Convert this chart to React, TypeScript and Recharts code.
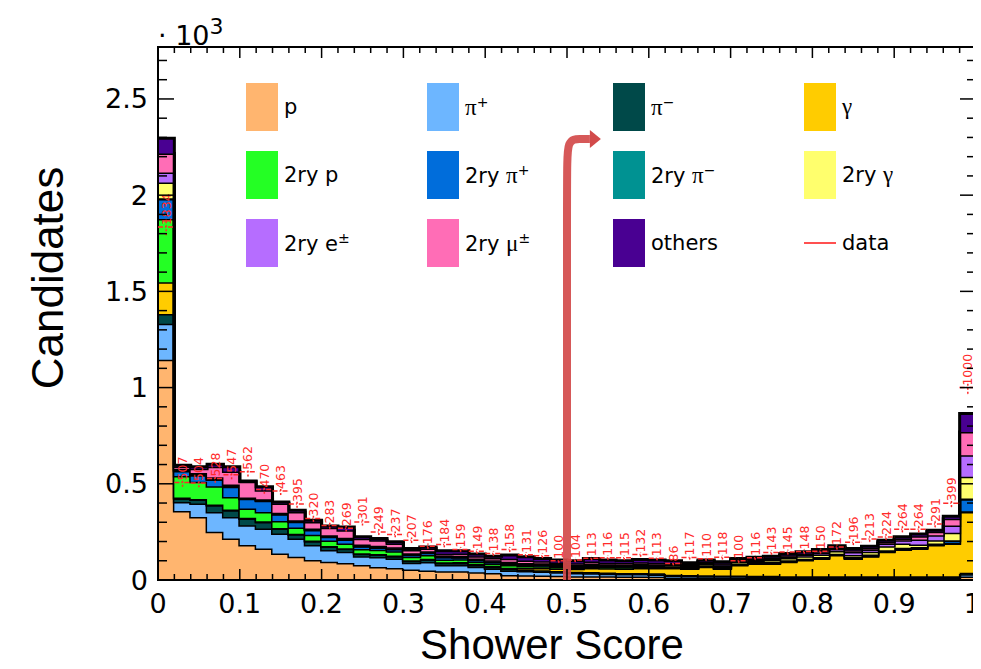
import React from 'react';
import {
  ComposedChart,
  Area,
  Scatter,
  ErrorBar,
  Line,
  XAxis,
  YAxis,
  ReferenceArea,
  ReferenceDot,
  Legend,
} from 'recharts';

// 50 bins of width 0.02 on [0, 1]
const P = [1145, 358, 328, 251, 216, 182, 164, 138, 121, 104, 95, 88, 78, 68, 62, 55, 50, 45, 46, 40, 36, 26, 25, 24, 22, 20, 20, 19, 18, 18, 17, 12, 12, 12, 12, 12, 11, 11, 10, 10, 10, 10, 10, 10, 10, 10, 10, 10, 10, 18];
const PI_PLUS = [187, 48, 70, 103, 112, 103, 104, 104, 95, 78, 61, 59, 46, 52, 50, 35, 44, 33, 32, 29, 24, 24, 22, 20, 18, 16, 15, 14, 13, 13, 12, 10, 9, 8, 8, 8, 7, 7, 6, 6, 6, 6, 6, 6, 6, 6, 6, 6, 6, 12];
const PI_MINUS = [51, 18, 20, 35, 35, 35, 34, 25, 22, 20, 18, 15, 12, 12, 12, 10, 12, 10, 10, 9, 8, 8, 8, 7, 7, 7, 7, 6, 6, 6, 6, 5, 5, 5, 4, 4, 4, 4, 4, 4, 4, 4, 4, 4, 4, 4, 4, 4, 4, 8];
const GAMMA = [164, 5, 3, 3, 3, 3, 3, 3, 3, 3, 3, 3, 3, 3, 3, 3, 4, 4, 5, 5, 6, 6, 8, 12, 13, 15, 20, 22, 23, 25, 27, 35, 34, 44, 36, 54, 64, 64, 75, 84, 92, 110, 92, 104, 127, 139, 144, 162, 170, 316];
const P_2RY = [329, 112, 90, 95, 66, 49, 49, 37, 32, 30, 28, 25, 22, 22, 22, 18, 20, 15, 15, 12, 12, 14, 10, 9, 8, 7, 8, 6, 6, 6, 5, 4, 3, 3, 3, 2, 2, 2, 2, 2, 2, 2, 2, 2, 2, 2, 2, 2, 2, 3];
const PI_PLUS_2RY = [104, 26, 34, 35, 52, 50, 58, 35, 30, 25, 20, 20, 14, 12, 12, 10, 12, 12, 10, 9, 8, 8, 7, 6, 6, 5, 6, 5, 5, 5, 4, 4, 3, 3, 3, 3, 3, 3, 3, 3, 3, 3, 3, 4, 4, 4, 4, 4, 12, 63];
const PI_MINUS_2RY = [4, 3, 3, 3, 3, 2, 2, 2, 2, 2, 2, 2, 2, 2, 2, 2, 2, 2, 2, 2, 2, 2, 2, 2, 2, 2, 2, 2, 2, 2, 2, 2, 2, 2, 2, 2, 2, 2, 2, 2, 2, 2, 2, 2, 2, 2, 2, 2, 2, 3];
const GAMMA_2RY = [82, 3, 3, 3, 3, 2, 2, 2, 2, 2, 2, 2, 2, 2, 2, 2, 2, 2, 2, 2, 2, 3, 3, 3, 3, 3, 4, 4, 4, 5, 5, 6, 6, 8, 8, 9, 8, 11, 12, 13, 14, 14, 11, 15, 21, 23, 12, 17, 40, 113];
const E_2RY = [52, 5, 5, 6, 6, 3, 4, 4, 4, 4, 4, 5, 5, 5, 5, 4, 4, 4, 4, 4, 4, 4, 4, 4, 4, 4, 4, 4, 4, 4, 4, 5, 5, 6, 6, 6, 6, 7, 8, 8, 9, 10, 16, 12, 14, 16, 27, 26, 37, 112];
const MU_2RY = [98, 12, 22, 54, 68, 81, 47, 48, 42, 33, 38, 40, 30, 28, 20, 17, 14, 10, 12, 12, 12, 15, 12, 10, 8, 8, 10, 8, 7, 8, 8, 6, 4, 5, 5, 4, 4, 5, 6, 6, 7, 8, 8, 7, 8, 10, 16, 18, 35, 121];
const OTHERS = [80, 6, 10, 14, 24, 5, 17, 8, 10, 10, 9, 17, 11, 10, 9, 8, 7, 15, 14, 11, 10, 20, 20, 15, 13, 13, 16, 14, 12, 15, 14, 11, 7, 8, 8, 8, 7, 8, 10, 9, 10, 9, 10, 10, 9, 9, 12, 8, 13, 96];

const DATA_COUNTS = [1834, 507, 504, 528, 547, 562, 470, 463, 395, 320, 283, 269, 301, 249, 237, 207, 176, 184, 159, 149, 138, 158, 131, 126, 100, 104, 113, 116, 115, 132, 113, 86, 117, 110, 118, 100, 116, 143, 145, 148, 150, 172, 196, 213, 224, 264, 264, 291, 399, 1000];

const X_MAJOR = [0, 0.1, 0.2, 0.3, 0.4, 0.5, 0.6, 0.7, 0.8, 0.9, 1];
const X_LABELS = ['0', '0.1', '0.2', '0.3', '0.4', '0.5', '0.6', '0.7', '0.8', '0.9', '1'];
const Y_MAJOR = [0, 500, 1000, 1500, 2000, 2500];
const Y_LABELS = ['0', '0.5', '1', '1.5', '2', '2.5'];
const Y_MAX = 2770;

// annotation arrow (drawn over the plot)
const ARROW_PATH = [
  { x: 0.5, y: 0 },
  { x: 0.5, y: 2120 },
  { x: 0.5, y: 2292 },
  { x: 0.516, y: 2292 },
  { x: 0.528, y: 2292 },
];
const ARROW_TIP = { x: 0.528, y: 2292 };

const SPECIES = [
  { key: 'p', color: '#ffb56f', values: P },
  { key: 'pip', color: '#6db6ff', values: PI_PLUS },
  { key: 'pim', color: '#004949', values: PI_MINUS },
  { key: 'gam', color: '#ffcc00', values: GAMMA },
  { key: 'p2', color: '#24ff24', values: P_2RY },
  { key: 'pip2', color: '#006ddb', values: PI_PLUS_2RY },
  { key: 'pim2', color: '#009292', values: PI_MINUS_2RY },
  { key: 'gam2', color: '#ffff6d', values: GAMMA_2RY },
  { key: 'e2', color: '#b66dff', values: E_2RY },
  { key: 'mu2', color: '#ff6db6', values: MU_2RY },
  { key: 'oth', color: '#490092', values: OTHERS },
];

const LEGEND_ITEMS = [
  { color: '#ffb56f', text: 'p' },
  { color: '#6db6ff', greek: 'π', sup: '+' },
  { color: '#004949', greek: 'π', sup: '−' },
  { color: '#ffcc00', greek: 'γ' },
  { color: '#24ff24', text: '2ry p' },
  { color: '#006ddb', text: '2ry ', greek: 'π', sup: '+' },
  { color: '#009292', text: '2ry ', greek: 'π', sup: '−' },
  { color: '#ffff6d', text: '2ry ', greek: 'γ' },
  { color: '#b66dff', text: '2ry e', sup: '±' },
  { color: '#ff6db6', text: '2ry ', greek: 'μ', sup: '±' },
  { color: '#490092', text: 'others' },
  { color: null, text: 'data' },
];

const W = 973;
const H = 661;
const MARGIN = { top: 39, right: 5, bottom: 59, left: 90 };
const Y_AXIS_W = 60;
const X_AXIS_H = 30;
const PLOT_TOP = MARGIN.top;
const PLOT_RIGHT = W - MARGIN.right;
const LEGEND_COLS = [238, 419, 605, 796];
const LEGEND_ROWS = [75, 143, 211];
const TICK_FONT = 'DejaVu Sans, sans-serif';
const TITLE_FONT = 'Liberation Sans, Arial, sans-serif';

const rows = Array.from({ length: 51 }, (_, i) => {
  const b = Math.min(i, 49);
  const row: Record<string, number> = { x: i / 50 };
  SPECIES.forEach((s) => {
    row[s.key] = s.values[b];
  });
  return row;
});

const points = DATA_COUNTS.map((n, i) => ({
  x: (i + 0.5) / 50,
  y: n,
  ex: 0.01,
  ey: Math.sqrt(n),
}));

const xTicks = Array.from({ length: 51 }, (_, i) => i / 50);
const yTicks = Array.from({ length: 28 }, (_, i) => i * 100);

const XTick = (props: any) => {
  const { x, y, payload } = props;
  const idx = X_MAJOR.findIndex((m) => Math.abs(m - payload.value) < 1e-6);
  const major = idx >= 0;
  const len = major ? 11 : 6;
  const last = idx === X_MAJOR.length - 1;
  return (
    <g>
      <line x1={x} y1={y} x2={x} y2={y - len} stroke="#000" strokeWidth={1.5} />
      <line x1={x} y1={PLOT_TOP} x2={x} y2={PLOT_TOP + len} stroke="#000" strokeWidth={1.5} />
      {major && (
        <text
          x={last ? x + 5 : x}
          y={y + 33}
          textAnchor={last ? 'end' : 'middle'}
          fontSize={27}
          fontFamily={TICK_FONT}
          fill="#000"
        >
          {X_LABELS[idx]}
        </text>
      )}
    </g>
  );
};

const YTick = (props: any) => {
  const { x, y, payload } = props;
  const idx = Y_MAJOR.indexOf(payload.value);
  const major = idx >= 0;
  const len = major ? 16 : 9;
  return (
    <g>
      <line x1={x} y1={y} x2={x + len} y2={y} stroke="#000" strokeWidth={1.5} />
      <line x1={PLOT_RIGHT} y1={y} x2={PLOT_RIGHT - len} y2={y} stroke="#000" strokeWidth={1.5} />
      {major && (
        <text x={x - 10} y={y} textAnchor="end" dominantBaseline="central" fontSize={27} fontFamily={TICK_FONT} fill="#000">
          {Y_LABELS[idx]}
        </text>
      )}
    </g>
  );
};

const XTitle = () => (
  <text x={544} y={651} textAnchor="middle" fontSize={42} fontFamily={TITLE_FONT} fill="#000">
    Shower Score
  </text>
);

const YTitle = () => (
  <g>
    <text x={55} y={270} transform="rotate(-90 55 270)" textAnchor="middle" fontSize={44} fontFamily={TITLE_FONT} fill="#000">
      Candidates
    </text>
    <text x={150} y={37} fontSize={27} fontFamily={TICK_FONT} fill="#000">
      · 10
      <tspan dy={-11} fontSize={22}>3</tspan>
    </text>
  </g>
);

const DataLabel = (props: any) => {
  const { cx, cy, payload } = props;
  if (cx == null || cy == null) return <g />;
  return (
    <text
      x={cx + 2}
      y={cy}
      transform={`rotate(-90 ${cx} ${cy})`}
      dominantBaseline="central"
      fontSize={12.5}
      fontFamily={TICK_FONT}
      fill="#ff2a2a"
    >
      {payload.y}
    </text>
  );
};

const ArrowHead = (props: any) => {
  const { cx, cy } = props;
  return <polygon points={`${cx},${cy - 9} ${cx},${cy + 9} ${cx + 11},${cy}`} fill="#d24a4a" />;
};

const renderLegend = () => (
  <div style={{ position: 'relative', width: W, height: 0 }}>
    {LEGEND_ITEMS.map((item, i) => (
      <div
        key={i}
        style={{
          position: 'absolute',
          left: LEGEND_COLS[i % 4],
          top: LEGEND_ROWS[Math.floor(i / 4)],
          height: 48,
          display: 'flex',
          alignItems: 'center',
          whiteSpace: 'nowrap',
          fontFamily: TICK_FONT,
          fontSize: 21,
          color: '#000',
        }}
      >
        {item.color ? (
          <div style={{ width: 32, height: 48, background: item.color }} />
        ) : (
          <div style={{ width: 32, height: 48, position: 'relative' }}>
            <div style={{ position: 'absolute', left: 0, top: 23, width: 32, height: 2, background: '#ff5050' }} />
          </div>
        )}
        <span style={{ marginLeft: 6 }}>
          {item.text}
          {item.greek && <span style={{ fontFamily: 'Liberation Serif, serif', fontSize: 23 }}>{item.greek}</span>}
          {item.sup && <sup style={{ fontSize: 14 }}>{item.sup}</sup>}
        </span>
      </div>
    ))}
  </div>
);

export default function App() {
  return (
    <div style={{ width: W, height: H }}>
      <ComposedChart width={W} height={H} data={rows} margin={MARGIN}>
        <XAxis
          dataKey="x"
          type="number"
          domain={[0, 1]}
          ticks={xTicks}
          interval={0}
          tickSize={0}
          tickMargin={0}
          tickLine={false}
          axisLine={false}
          height={X_AXIS_H}
          tick={<XTick />}
          label={XTitle}
        />
        <YAxis
          type="number"
          domain={[0, Y_MAX]}
          ticks={yTicks}
          interval={0}
          tickSize={0}
          tickMargin={0}
          tickLine={false}
          axisLine={false}
          width={Y_AXIS_W}
          tick={<YTick />}
          label={YTitle}
        />
        <Legend
          content={renderLegend}
          layout="horizontal"
          verticalAlign="middle"
          align="center"
          wrapperStyle={{ left: 0, top: 0, width: W, height: 0 }}
        />
        {SPECIES.map((s) => (
          <Area
            key={s.key}
            dataKey={s.key}
            stackId="mc"
            type="stepAfter"
            fill={s.color}
            fillOpacity={1}
            stroke="#000"
            strokeWidth={3}
            dot={false}
            activeDot={false}
            isAnimationActive={false}
          />
        ))}
        <Scatter data={points} dataKey="y" shape={<DataLabel />} isAnimationActive={false}>
          <ErrorBar dataKey="ex" direction="x" width={0} stroke="#ff2a2a" strokeWidth={1.5} strokeDasharray="5 2 1 2" />
          <ErrorBar dataKey="ey" direction="y" width={0} stroke="#ff2a2a" strokeWidth={1.5} strokeDasharray="2 2" />
        </Scatter>
        <Line
          data={ARROW_PATH}
          dataKey="y"
          type="basis"
          stroke="#d24a4a"
          strokeWidth={8}
          strokeOpacity={0.92}
          dot={false}
          activeDot={false}
          isAnimationActive={false}
        />
        <ReferenceDot x={ARROW_TIP.x} y={ARROW_TIP.y} shape={<ArrowHead />} />
        <ReferenceArea x1={0} x2={1} y1={0} y2={Y_MAX} fill="none" stroke="#000" strokeWidth={2} ifOverflow="visible" />
      </ComposedChart>
    </div>
  );
}
